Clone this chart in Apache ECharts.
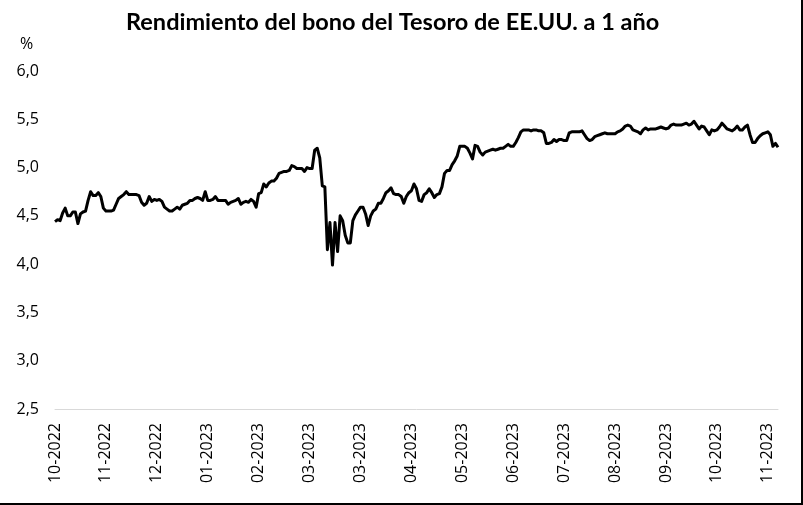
<!DOCTYPE html>
<html>
<head>
<meta charset="utf-8">
<script src="https://cdn.jsdelivr.net/npm/echarts@6/dist/echarts.min.js"></script>
<style>
  html, body { margin: 0; padding: 0; background: #fff; }
  #chart { width: 803px; height: 505px; box-sizing: border-box; border-right: 2px solid #000; border-bottom: 2px solid #000; }
</style>
</head>
<body>
<div id="chart"></div>
<script>
const chartTitle = 'Rendimiento del bono del Tesoro de EE.UU. a 1 año';
const yUnit = '%';
const xTickLabels = ['10-2022','11-2022','12-2022','01-2023','02-2023','03-2023','03-2023','04-2023','05-2023','06-2023','07-2023','08-2023','09-2023','10-2023','11-2023'];
const pointsPerLabel = 20;
const yield1y = [
  4.44,4.46,4.45,4.53,4.58,4.50,4.50,4.54,4.54,4.42,
  4.52,4.54,4.55,4.66,4.75,4.71,4.71,4.74,4.70,4.58,
  4.55,4.55,4.55,4.56,4.62,4.68,4.70,4.72,4.75,4.72,
  4.72,4.72,4.72,4.71,4.64,4.61,4.63,4.70,4.65,4.67,
  4.66,4.67,4.65,4.59,4.57,4.55,4.55,4.57,4.59,4.57,
  4.61,4.62,4.63,4.66,4.66,4.68,4.69,4.68,4.66,4.75,
  4.66,4.66,4.67,4.70,4.66,4.66,4.66,4.66,4.62,4.64,
  4.65,4.66,4.68,4.62,4.64,4.65,4.64,4.67,4.65,4.59,
  4.73,4.74,4.83,4.80,4.84,4.86,4.86,4.89,4.94,4.95,
  4.96,4.96,4.97,5.02,5.01,4.99,4.99,4.99,4.96,5.00,
  4.99,4.99,5.18,5.20,5.10,4.81,4.80,4.15,4.43,3.99,
  4.43,4.13,4.50,4.45,4.30,4.22,4.22,4.45,4.51,4.55,
  4.59,4.59,4.52,4.40,4.50,4.55,4.57,4.63,4.63,4.68,
  4.74,4.76,4.79,4.73,4.72,4.72,4.70,4.63,4.70,4.74,
  4.76,4.83,4.78,4.66,4.65,4.72,4.74,4.78,4.74,4.69,
  4.72,4.73,4.80,4.94,4.97,4.97,5.03,5.07,5.12,5.22,
  5.22,5.22,5.20,5.15,5.09,5.23,5.22,5.16,5.13,5.16,
  5.17,5.18,5.19,5.18,5.19,5.20,5.20,5.22,5.24,5.22,
  5.22,5.26,5.31,5.37,5.39,5.39,5.39,5.38,5.39,5.39,
  5.38,5.38,5.36,5.25,5.25,5.26,5.29,5.27,5.29,5.29,
  5.28,5.28,5.36,5.37,5.37,5.37,5.37,5.38,5.34,5.30,
  5.28,5.29,5.32,5.33,5.34,5.35,5.36,5.35,5.35,5.35,
  5.35,5.37,5.38,5.40,5.43,5.44,5.43,5.39,5.38,5.37,
  5.35,5.39,5.41,5.39,5.40,5.40,5.40,5.41,5.42,5.41,
  5.40,5.41,5.44,5.45,5.44,5.44,5.44,5.45,5.46,5.44,
  5.45,5.48,5.44,5.40,5.43,5.42,5.38,5.34,5.39,5.38,
  5.39,5.42,5.46,5.43,5.40,5.39,5.38,5.40,5.43,5.39,
  5.39,5.42,5.44,5.34,5.26,5.26,5.30,5.33,5.35,5.36,
  5.37,5.34,5.22,5.25,5.21
];
const categories = yield1y.map((_, i) => String(i));

const chart = echarts.init(document.getElementById('chart'), null, { renderer: 'canvas' });
const labelFont = 'Open Sans, Lato, sans-serif';
chart.setOption({
  animation: false,
  backgroundColor: '#fff',
  title: {
    text: chartTitle,
    left: 121,
    top: 5,
    textStyle: { fontFamily: 'Lato, Open Sans, sans-serif', fontWeight: 'bold', fontSize: 23.5, color: '#000' }
  },
  graphic: [{
    type: 'text',
    left: 20,
    top: 36,
    style: { text: yUnit, fontFamily: labelFont, fontSize: 16, fill: '#000' }
  }],
  grid: { left: 55, right: 23, top: 71, bottom: 94, containLabel: false },
  xAxis: {
    type: 'category',
    data: categories,
    boundaryGap: false,
    axisLine: { show: true, lineStyle: { color: '#d9d9d9', width: 1 } },
    axisTick: { show: false },
    axisLabel: {
      interval: pointsPerLabel - 1,
      rotate: 90,
      margin: 14,
      fontFamily: labelFont,
      fontSize: 16,
      color: '#000',
      formatter: (v, idx) => xTickLabels[Math.round(idx / pointsPerLabel)] || ''
    },
    splitLine: { show: false }
  },
  yAxis: {
    type: 'value',
    min: 2.5,
    max: 6.0,
    interval: 0.5,
    axisLine: { show: false },
    axisTick: { show: false },
    splitLine: { show: false },
    axisLabel: {
      margin: 16,
      fontFamily: labelFont,
      fontSize: 16,
      color: '#000',
      formatter: v => v.toFixed(1).replace('.', ',')
    }
  },
  series: [{
    type: 'line',
    data: yield1y,
    showSymbol: false,
    smooth: false,
    lineStyle: { color: '#000', width: 3, join: 'round' }
  }]
});
</script>
</body>
</html>
